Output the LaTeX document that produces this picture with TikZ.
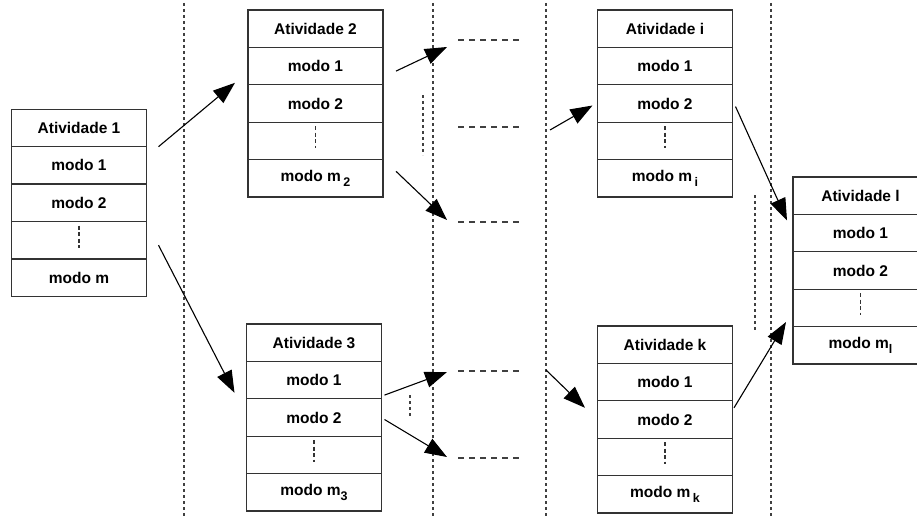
\documentclass[tikz,border=0pt]{standalone}
\usepackage{fontspec}
\setmainfont{Liberation Sans}
\usetikzlibrary{arrows.meta,positioning,calc}
\definecolor{boxGray}{HTML}{333333}
\definecolor{sepGray}{HTML}{404040}
\newcommand{\lowsub}[1]{\raisebox{-5pt}{\fontsize{12.5}{13}\selectfont #1}}

\begin{document}
\begin{tikzpicture}[x=1pt, y=-1pt, node distance=0pt,
  cell/.style={draw=boxGray, line width=1.3pt, minimum width=135pt, minimum height=37.4pt,
    inner sep=0pt, outer sep=0pt, font=\fontsize{15.5}{18}\selectfont\bfseries},
  sep/.style={sepGray, line width=1.8pt, dash pattern=on 3pt off 3pt},
  gap/.style={sepGray, line width=1.2pt, dash pattern=on 6pt off 5pt},
  vdots/.style={boxGray, line width=1.8pt, dash pattern=on 4pt off 2.5pt},
  flow/.style={line width=1.1pt, -{Triangle[length=22pt,width=16pt]}}]
\useasboundingbox (0,0) rectangle (917,519);
\clip (0,0) rectangle (917,519);
% ---------- separators ----------
\foreach \x in {184,433,546,771}
  \draw[sep] (\x,3) -- (\x,517);
\draw[sep] (423,95) -- (423,155);
\draw[sep] (410,395) -- (410,417);
\draw[sep] (755,195) -- (755,332);
% ---------- continuation lines ----------
\coordinate (c1) at (458,40);
\coordinate (c2) at (458,127);
\coordinate (c3) at (458,222);
\coordinate (c4) at (458,371);
\coordinate (c5) at (458,458);
\foreach \c in {c1,c2,c3,c4,c5}
  \draw[gap] (\c) -- ++(62,0);
\coordinate (fi) at (550,130);
\coordinate (fk) at (546,370);
% ---------- Atividade 1 ----------
\node[cell] (a1h) at (79,128) {Atividade 1};
\node[cell, below=of a1h] (a1m1) {modo 1};
\node[cell, below=of a1m1] (a1m2) {modo 2};
\node[cell, below=of a1m2] (a1d) {};
\node[cell, below=of a1d] (a1mm) {modo m};
\draw[vdots] ($(a1d.north)+(0,4)$) -- ++(0,22);
% ---------- Atividade 2 ----------
\node[cell] (a2h) at (315.5,28.7) {Atividade 2};
\node[cell, below=of a2h] (a2m1) {modo 1};
\node[cell, below=of a2m1] (a2m2) {modo 2};
\node[cell, below=of a2m2] (a2d) {};
\node[cell, below=of a2d] (a2mm) {modo m\,\lowsub{2}};
\draw[vdots] ($(a2d.north)+(0,4)$) -- ++(0,22);
% ---------- Atividade 3 ----------
\node[cell] (a3h) at (314,342.7) {Atividade 3};
\node[cell, below=of a3h] (a3m1) {modo 1};
\node[cell, below=of a3m1] (a3m2) {modo 2};
\node[cell, below=of a3m2] (a3d) {};
\node[cell, below=of a3d] (a3mm) {modo m\lowsub{3}};
\draw[vdots] ($(a3d.north)+(0,4)$) -- ++(0,22);
% ---------- Atividade i ----------
\node[cell] (aih) at (665,28.7) {Atividade i};
\node[cell, below=of aih] (aim1) {modo 1};
\node[cell, below=of aim1] (aim2) {modo 2};
\node[cell, below=of aim2] (aid) {};
\node[cell, below=of aid] (aimm) {modo m\,\lowsub{i}};
\draw[vdots] ($(aid.north)+(0,4)$) -- ++(0,22);
% ---------- Atividade k ----------
\node[cell] (akh) at (665,344.7) {Atividade k};
\node[cell, below=of akh] (akm1) {modo 1};
\node[cell, below=of akm1] (akm2) {modo 2};
\node[cell, below=of akm2] (akd) {};
\node[cell, below=of akd] (akmm) {modo m\,\lowsub{k}};
\draw[vdots] ($(akd.north)+(0,4)$) -- ++(0,22);
% ---------- Atividade l ----------
\node[cell] (alh) at (860.5,195.7) {Atividade l};
\node[cell, below=of alh] (alm1) {modo 1};
\node[cell, below=of alm1] (alm2) {modo 2};
\node[cell, below=of alm2] (ald) {};
\node[cell, below=of ald] (almm) {modo m\lowsub{l}};
\draw[vdots] ($(ald.north)+(0,4)$) -- ++(0,22);
% ---------- arrows ----------
\draw[flow] ($(a1h.south east)+(12,0)$) -- ($(a2m1.south west)+(-13,-2)$);
\draw[flow] ($(a1d.east)+(12,5)$) -- ($(a3m1.south west)+(-12,-6)$);
\draw[flow] ($(a2m1.east)+(13,5)$) -- ($(c1)+(-11,7)$);
\draw[flow] ($(a2mm.east)+(13,-7)$) -- ($(c3)+(-11,-2)$);
\draw[flow] ($(a3m1.east)+(3,15)$) -- ($(c4)+(-11,1)$);
\draw[flow] ($(a3m2.east)+(3,2)$) -- ($(c5)+(-11,-1)$);
\draw[flow] (fi) -- ($(aim2.west)+(-5,2)$);
\draw[flow] ($(aim2.east)+(3,3)$) -- ($(alm1.north west)+(-6,6)$);
\draw[flow] (fk) -- ($(akm1.south west)+(-12.5,7)$);
\draw[flow] ($(akm1.south east)+(1.5,7)$) -- ($(almm.north west)+(-7,-4.6)$);
\end{tikzpicture}
\end{document}
